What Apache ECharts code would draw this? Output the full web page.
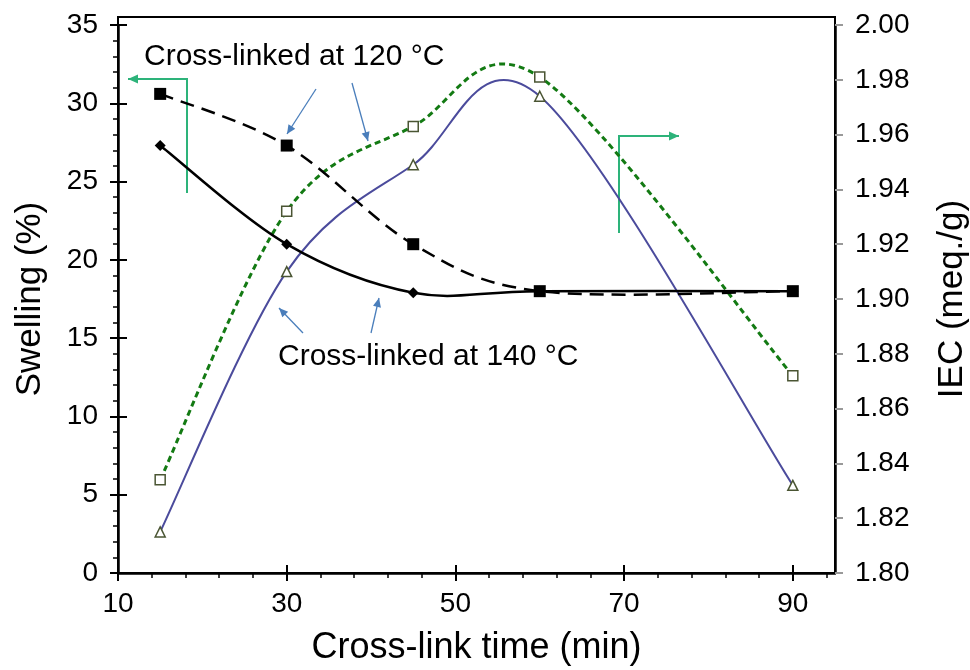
<!DOCTYPE html>
<html>
<head>
    <meta charset="utf-8">
    <title>Swelling / IEC vs cross-link time</title>
    <script src="https://cdn.jsdelivr.net/npm/echarts@6/dist/echarts.min.js"></script>
</head>
<style>
    body {
        margin: 0;
        background: #fff;
    }

    #main {
        width: 970px;
        height: 670px;
    }
</style>
<body>
<div id="main"></div>
<script type="text/javascript">
    // data
    var crossLinkTime = [15, 30, 45, 60, 90];
    var swelling120 = [30.6, 27.3, 21.0, 18.0, 18.0];
    var swelling140 = [27.3, 21.0, 17.9, 18.0, 18.0];
    var iec120 = [1.834, 1.932, 1.963, 1.981, 1.872];
    var iec140 = [1.815, 1.910, 1.949, 1.974, 1.832];

    var xMajorTicks = [10, 30, 50, 70, 90];
    var xMinorTicks = [14, 18, 22, 26, 34, 38, 42, 46, 54, 58, 62, 66, 74, 78, 82, 86, 94];

    var FONT = '"Liberation Sans", Arial, sans-serif';

    function pairs(xs, ys) {
        return xs.map(function (x, i) {
            return [x, ys[i]];
        });
    }

    // spreadsheet-style smoothed line (catmull-rom as cubic bezier) through pixel points
    function smoothPath(pts) {
        var d = 'M' + pts[0][0] + ',' + pts[0][1];
        for (var i = 0; i < pts.length - 1; i++) {
            var p0 = pts[i - 1] || pts[i], p1 = pts[i], p2 = pts[i + 1], p3 = pts[i + 2] || pts[i + 1];
            var c1x = p1[0] + (p2[0] - p0[0]) / 6, c1y = p1[1] + (p2[1] - p0[1]) / 6;
            var c2x = p2[0] - (p3[0] - p1[0]) / 6, c2y = p2[1] - (p3[1] - p1[1]) / 6;
            d += 'C' + c1x + ',' + c1y + ',' + c2x + ',' + c2y + ',' + p2[0] + ',' + p2[1];
        }
        return d;
    }

    function curveSeries(name, ys, yAxisIndex, lineStyle) {
        return {
            name: name,
            type: 'custom',
            coordinateSystem: 'cartesian2d',
            xAxisIndex: 0,
            yAxisIndex: yAxisIndex,
            data: pairs(crossLinkTime, ys),
            encode: {x: 0, y: 1},
            silent: true,
            z: 2,
            renderItem: function (params, api) {
                if (params.dataIndex !== 0) return;
                var pts = crossLinkTime.map(function (x, i) {
                    return api.coord([x, ys[i]]);
                });
                return {
                    type: 'path',
                    shape: {pathData: smoothPath(pts)},
                    style: {
                        fill: null,
                        stroke: lineStyle.color,
                        lineWidth: lineStyle.width,
                        lineDash: lineStyle.dash || null
                    }
                };
            }
        };
    }

    function markerSeries(name, ys, yAxisIndex, symbol, size, itemStyle) {
        return {
            name: name,
            type: 'scatter',
            xAxisIndex: 0,
            yAxisIndex: yAxisIndex,
            data: pairs(crossLinkTime, ys),
            symbol: symbol,
            symbolSize: size,
            itemStyle: itemStyle,
            z: 3
        };
    }

    // arrow = line + small filled head at the end point
    function arrow(points, color, width, head) {
        var p1 = points[points.length - 2], p2 = points[points.length - 1];
        var dx = p2[0] - p1[0], dy = p2[1] - p1[1];
        var len = Math.sqrt(dx * dx + dy * dy);
        var ux = dx / len, uy = dy / len;
        var bx = p2[0] - ux * head, by = p2[1] - uy * head;
        var hw = head * 0.45;
        return [{
            type: 'polyline',
            shape: {points: points},
            style: {stroke: color, lineWidth: width, fill: null}
        }, {
            type: 'polygon',
            shape: {points: [p2, [bx - uy * hw, by + ux * hw], [bx + uy * hw, by - ux * hw]]},
            style: {fill: color}
        }];
    }

    var blue = '#4a7ebb';
    var green = '#2db37a';
    var graphics = [].concat(
        arrow([[316, 89], [287, 134]], blue, 1.3, 9),
        arrow([[352, 83], [368, 141]], blue, 1.3, 9),
        arrow([[303, 333], [279, 308]], blue, 1.3, 9),
        arrow([[371, 333], [379, 298]], blue, 1.3, 9),
        arrow([[187, 193], [187, 79], [128, 79]], green, 2, 10),
        arrow([[619, 233], [619, 136], [679, 136]], green, 2, 10),
        [{
            type: 'text',
            x: 144, y: 57,
            style: {
                text: 'Cross-linked at 120 °C', fill: '#000',
                font: '30px ' + FONT, verticalAlign: 'middle', textVerticalAlign: 'middle'
            }
        }, {
            type: 'text',
            x: 278, y: 357,
            style: {
                text: 'Cross-linked at 140 °C', fill: '#000',
                font: '30px ' + FONT, verticalAlign: 'middle', textVerticalAlign: 'middle'
            }
        }]
    );

    var chart = echarts.init(document.getElementById('main'));

    var gridPos = {left: 118, right: 135, top: 25, bottom: 97};

    chart.setOption({
        animation: false,
        backgroundColor: '#fff',
        textStyle: {fontFamily: FONT},
        grid: [
            // main plot
            {
                left: gridPos.left, right: gridPos.right, top: gridPos.top, bottom: gridPos.bottom,
                outerBoundsMode: 'none', containLabel: false
            },
            // inside halves of the major ticks
            {
                left: gridPos.left, right: gridPos.right, top: gridPos.top, bottom: gridPos.bottom,
                outerBoundsMode: 'none', containLabel: false
            },
            // frame + minor x ticks
            {
                left: gridPos.left, right: gridPos.right, top: 17, bottom: gridPos.bottom,
                outerBoundsMode: 'none', containLabel: false,
                show: true, borderColor: '#000', borderWidth: 2, backgroundColor: 'transparent'
            }
        ],
        xAxis: [{
            type: 'value',
            gridIndex: 0,
            min: 10,
            max: 95,
            name: 'Cross-link time (min)',
            nameLocation: 'middle',
            nameGap: 57,
            nameTextStyle: {fontSize: 36, color: '#000', fontFamily: FONT},
            axisLine: {lineStyle: {color: '#000', width: 2.5}},
            axisTick: {show: true, customValues: xMajorTicks, length: 8, lineStyle: {color: '#000', width: 2}},
            axisLabel: {customValues: xMajorTicks, fontSize: 28, color: '#000', margin: 17},
            splitLine: {show: false}
        }, {
            type: 'value',
            gridIndex: 1,
            min: 10,
            max: 95,
            axisLine: {show: false},
            axisTick: {show: true, inside: true, customValues: xMajorTicks, length: 8, lineStyle: {color: '#000', width: 2}},
            axisLabel: {show: false},
            splitLine: {show: false}
        }, {
            type: 'value',
            gridIndex: 2,
            min: 10,
            max: 95,
            axisLine: {show: false},
            axisTick: {show: true, customValues: xMinorTicks, length: 5, lineStyle: {color: '#000', width: 1.5}},
            axisLabel: {show: false},
            splitLine: {show: false}
        }],
        yAxis: [{
            type: 'value',
            gridIndex: 0,
            position: 'left',
            min: 0,
            max: 35,
            interval: 5,
            name: 'Swelling (%)',
            nameLocation: 'middle',
            nameRotate: 90,
            nameGap: 70,
            nameTextStyle: {fontSize: 35, color: '#000', fontFamily: FONT},
            axisLine: {show: true, lineStyle: {color: '#000', width: 2.5}},
            axisTick: {show: true, length: 8, lineStyle: {color: '#000', width: 2}},
            minorTick: {show: true, splitNumber: 5, length: 5, lineStyle: {color: '#000', width: 1.5}},
            axisLabel: {fontSize: 28, color: '#000', margin: 20},
            splitLine: {show: false}
        }, {
            type: 'value',
            gridIndex: 0,
            position: 'right',
            min: 1.8,
            max: 2.0,
            interval: 0.02,
            name: 'IEC (meq./g)',
            nameLocation: 'middle',
            nameRotate: 90,
            nameGap: 100,
            nameTextStyle: {fontSize: 35, color: '#000', fontFamily: FONT},
            axisLine: {show: true, lineStyle: {color: '#000', width: 2.5}},
            axisTick: {show: true, length: 8, lineStyle: {color: '#999', width: 2}},
            axisLabel: {
                fontSize: 28, color: '#000', margin: 20,
                formatter: function (v) {
                    return v.toFixed(2);
                }
            },
            splitLine: {show: false}
        }, {
            type: 'value',
            gridIndex: 1,
            position: 'left',
            min: 0,
            max: 35,
            interval: 5,
            axisLine: {show: false},
            axisTick: {show: true, inside: true, length: 9, lineStyle: {color: '#000', width: 2}},
            axisLabel: {show: false},
            splitLine: {show: false}
        }, {
            type: 'value',
            gridIndex: 2,
            show: false,
            min: 0,
            max: 1
        }],
        graphic: graphics,
        series: [
            curveSeries('IEC, cross-linked at 120 °C', iec120, 1, {color: '#137a13', width: 3, dash: [6, 4]}),
            curveSeries('IEC, cross-linked at 140 °C', iec140, 1, {color: '#4b4b9c', width: 2}),
            curveSeries('Swelling, cross-linked at 120 °C', swelling120, 0, {color: '#000', width: 2.5, dash: [14, 8]}),
            curveSeries('Swelling, cross-linked at 140 °C', swelling140, 0, {color: '#000', width: 2.5}),
            markerSeries('IEC 120 points', iec120, 1, 'rect', 10,
                {color: '#fff', borderColor: '#4a5533', borderWidth: 1.5, opacity: 1}),
            markerSeries('IEC 140 points', iec140, 1, 'triangle', 10,
                {color: '#fff', borderColor: '#4a5533', borderWidth: 1.5, opacity: 1}),
            markerSeries('Swelling 120 points', swelling120, 0, 'rect', 12, {color: '#000', opacity: 1}),
            markerSeries('Swelling 140 points', swelling140, 0, 'diamond', 11, {color: '#000', opacity: 1})
        ]
    });
</script>
</body>
</html>
